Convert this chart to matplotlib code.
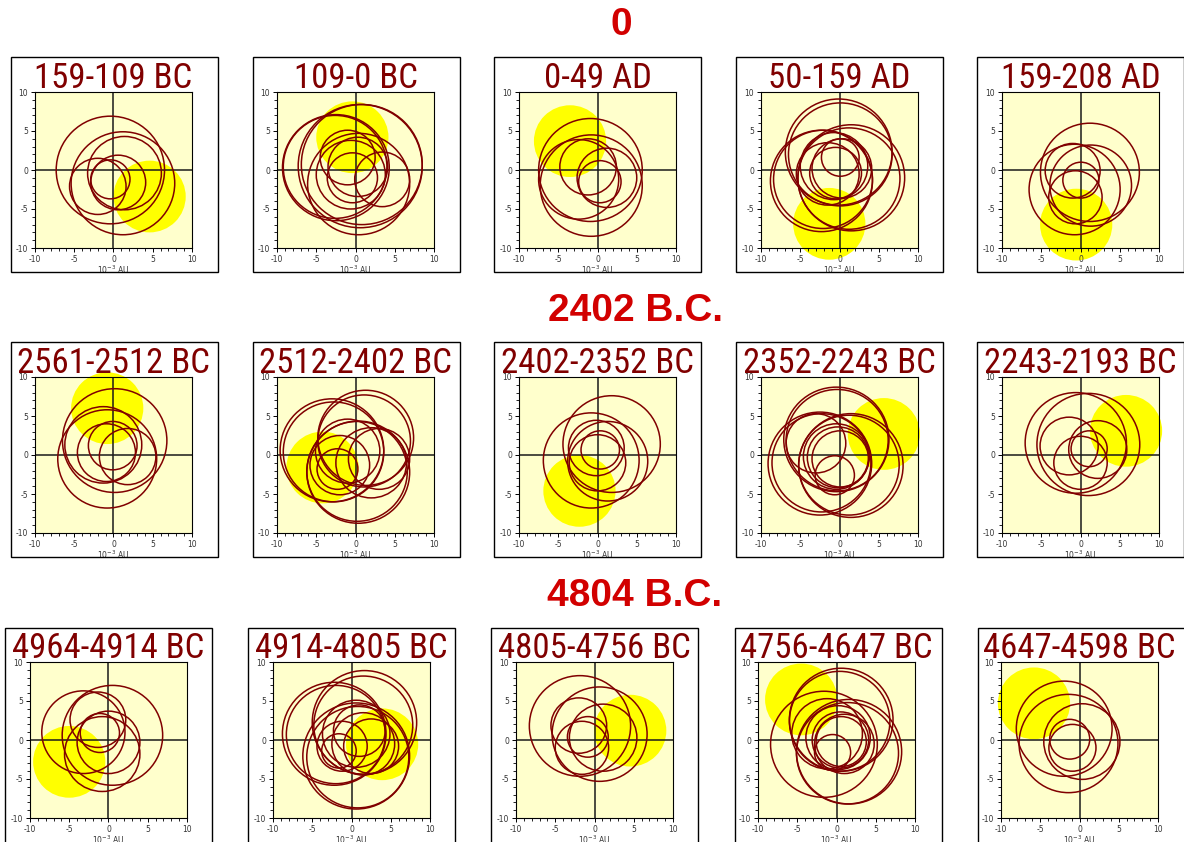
import numpy as np
import matplotlib.pyplot as plt
from matplotlib.patches import Circle, Rectangle

plt.rcParams['axes.unicode_minus'] = False

# epoch headings above each row
epochs = ['0', '2402 B.C.', '4804 B.C.']
epoch_x = [621, 635, 635]
epoch_base = [35, 321, 606]

periods = ['159-109 BC', '109-0 BC', '0-49 AD', '50-159 AD', '159-208 AD',
           '2561-2512 BC', '2512-2402 BC', '2402-2352 BC', '2352-2243 BC', '2243-2193 BC',
           '4964-4914 BC', '4914-4805 BC', '4805-4756 BC', '4756-4647 BC', '4647-4598 BC']

# sun disk centre (10^-3 AU) for each period
sun_x = [4.6, -0.4, -3.5, -1.3, -0.55, -0.8, -4.2, -2.3, 5.65, 5.8, -5.0, 3.9, 4.55, -4.5, -5.8]
sun_y = [-3.4, 4.2, 3.7, -6.9, -7.0, 6.0, -1.6, -4.6, 2.7, 3.1, -2.8, -0.55, 1.2, 5.2, 4.7]
sun_r = 4.6

# barycentre loops: (x, y, radius)
loops_159_109bc = [(-0.4, 0.0, 6.9), (1.2, -1.7, 6.6), (1.4, -0.4, 4.7), (-0.4, -1.2, 2.5),
                   (0.6, -1.6, 3.5), (-2.0, -2.1, 3.6)]
loops_109_0bc = [(0.6, 0.5, 7.9), (0.8, 0.7, 7.7), (-2.5, 0.3, 6.8), (-2.6, 0.4, 6.6),
                 (0.4, -1.8, 6.5), (0.3, 0.4, 3.8), (-1.0, 1.6, 3.5), (3.4, -1.2, 3.5),
                 (-0.4, -1.0, 3.2), (-0.6, -0.6, 4.4)]
loops_0_49ad = [(-0.9, 0.0, 6.6), (-0.8, -2.0, 6.5), (-2.4, -1.2, 5.1), (1.2, -1.0, 3.8),
                (-1.2, 0.4, 3.6), (0.3, -1.5, 2.7)]
loops_50_159ad = [(-0.1, 2.3, 6.8), (0.1, 2.0, 6.6), (-2.3, -1.4, 6.5), (-2.1, -1.2, 6.3),
                  (1.5, -1.0, 6.8), (1.2, -1.1, 6.5), (-0.7, 0.5, 4.3), (0.3, 0.2, 3.8),
                  (-1.5, -0.5, 4.0), (0.1, 1.6, 2.4), (-0.5, -0.4, 3.3)]
loops_159_208ad = [(1.2, -0.3, 6.3), (-0.75, -2.5, 5.8), (1.3, -2.0, 5.2), (0.05, -1.3, 2.3),
                   (-0.65, -3.5, 3.4), (-1.0, -0.1, 3.5)]
loops_2561_2512bc = [(0.15, 1.85, 6.65), (-0.8, -0.5, 6.3), (-1.3, 1.3, 4.9), (-0.9, 0.3, 3.7),
                     (1.8, -0.2, 3.6), (-0.1, 1.2, 3.1)]
loops_2512_2402bc = [(1.3, 2.2, 6.1), (1.1, 1.8, 5.9), (-3.0, 0.6, 6.6), (-2.8, 0.4, 6.4),
                     (0.35, -2.2, 6.55), (0.2, -2.1, 6.4), (-1.0, 0.5, 4.1), (2.0, -1.0, 4.5),
                     (-2.0, -1.3, 3.8), (-2.3, -1.8, 2.6), (3.0, -0.5, 3.9)]
loops_2402_2352bc = [(1.8, 1.4, 6.2), (-0.8, -0.7, 6.1), (1.3, -0.8, 5.1), (0.35, 0.65, 2.45),
                     (-0.15, 0.9, 3.55), (0.0, -1.0, 3.6)]
loops_2352_2243bc = [(-0.4, 2.0, 6.7), (-0.3, 1.9, 6.5), (-2.5, -1.1, 6.6), (-2.3, -1.0, 6.3),
                     (1.45, -1.35, 6.65), (1.2, -1.3, 6.4), (-0.2, -0.3, 3.9), (0.1, -0.5, 3.6),
                     (-0.4, -0.2, 4.2), (-0.6, -2.6, 2.5), (-3.0, 1.5, 3.8)]
loops_2243_2193bc = [(-0.6, 1.55, 6.45), (1.0, 1.35, 6.55), (-1.45, 1.15, 3.7), (2.2, 0.7, 3.7),
                     (1.1, 0.8, 2.3), (0.0, -1.0, 3.4)]
loops_4964_4914bc = [(0.5, 0.6, 6.4), (-3.2, 1.0, 5.3), (-0.8, -1.8, 4.8), (0.0, -0.3, 4.0),
                     (-1.1, 0.9, 2.5), (-1.35, 2.6, 3.55)]
loops_4914_4805bc = [(1.65, 2.25, 6.65), (1.5, 1.9, 6.3), (-2.2, 0.8, 6.6), (-2.0, 0.7, 6.3),
                     (0.6, -2.05, 6.8), (0.8, -2.2, 6.5), (0.6, 0.8, 4.3), (1.5, -0.5, 4.0),
                     (2.5, -0.8, 3.5), (-1.2, -0.8, 3.2), (-1.6, -1.4, 2.2), (1.0, 1.2, 3.3)]
loops_4805_4756bc = [(-1.85, 1.8, 6.45), (0.65, 0.75, 6.05), (-2.0, 1.85, 3.55), (1.1, 0.3, 4.3),
                     (-0.85, 0.4, 2.6), (-1.6, -1.0, 3.4)]
loops_4756_4647bc = [(0.6, 2.6, 6.6), (0.4, 2.4, 6.4), (-1.6, -0.55, 6.8), (1.6, -1.5, 6.7),
                     (1.4, -1.7, 6.5), (0.2, 0.3, 4.1), (0.5, 0.0, 3.6), (0.6, -0.2, 3.2),
                     (1.0, -0.5, 3.8), (-0.5, -1.6, 2.3), (-1.2, 0.8, 4.5)]
loops_4647_4598bc = [(-1.95, 1.45, 6.1), (-1.4, -0.45, 6.3), (0.3, -0.2, 4.85), (-1.25, 0.1, 2.55),
                     (-0.9, -1.0, 3.0)]

loops = [loops_159_109bc, loops_109_0bc, loops_0_49ad, loops_50_159ad, loops_159_208ad,
         loops_2561_2512bc, loops_2512_2402bc, loops_2402_2352bc, loops_2352_2243bc, loops_2243_2193bc,
         loops_4964_4914bc, loops_4914_4805bc, loops_4805_4756bc, loops_4756_4647bc, loops_4647_4598bc]

# layout in pixels (from top-left)
W, H = 1184, 842
ax_left = [[35, 277, 519, 761, 1002], [35, 277, 519, 761, 1002], [30, 273, 516, 758, 1001]]
ax_top = [92, 377, 662]
AX_W, AX_H = 157, 156
frame_left = [[11, 253, 494, 736, 977], [11, 253, 494, 736, 977], [5, 248, 491, 735, 978]]
frame_top = [57, 342, 628]
FR_W, FR_H = 207, 215

fig = plt.figure(figsize=(W / 100, H / 100), dpi=100)
fig.patch.set_facecolor('white')

for row in range(3):
    fig.text(epoch_x[row] / W, 1 - epoch_base[row] / H, epochs[row], ha='center', va='baseline',
             fontsize=28, fontweight='bold', color='#d20000', family='Liberation Sans')
    for col in range(5):
        k = row * 5 + col
        fl, ft = frame_left[row][col], frame_top[row]
        fig.add_artist(Rectangle((fl / W, 1 - (ft + FR_H) / H), FR_W / W, FR_H / H,
                                 transform=fig.transFigure, fill=False, edgecolor='black', lw=1.0))

        al = ax_left[row][col]
        ax = fig.add_axes([al / W, 1 - (ax_top[row] + AX_H) / H, AX_W / W, AX_H / H])
        ax.set_facecolor('#ffffcc')
        ax.set_xlim(-10, 10)
        ax.set_ylim(-10, 10)

        # sun disk spills past the frame, as in the original plots
        ax.add_patch(Circle((sun_x[k], sun_y[k]), sun_r, facecolor='#ffff00', edgecolor='none',
                            clip_on=False, zorder=1))
        ax.axhline(0, color='#1a1a1a', lw=1.1, zorder=2)
        ax.axvline(0, color='#1a1a1a', lw=1.1, zorder=2)
        for cx, cy, r in loops[k]:
            ax.add_patch(Circle((cx, cy), r, fill=False, edgecolor='#800000', lw=1.1, zorder=3))

        ax.set_xticks([-10, -5, 0, 5, 10])
        ax.set_yticks([-10, -5, 0, 5, 10])
        ax.set_xticks(np.arange(-10, 11, 1), minor=True)
        ax.set_yticks(np.arange(-10, 11, 1), minor=True)
        ax.tick_params(which='major', length=3, width=0.7, labelsize=5.5, labelcolor='#333333', pad=2)
        ax.tick_params(which='minor', length=2, width=0.6)
        ax.set_xlabel('10$^{-3}$ AU', fontsize=5.5, color='#333333', labelpad=0)
        for sp in ax.spines.values():
            sp.set_linewidth(0.8)

        ax.text(0.5, 1.0 + 4 / AX_H, periods[k], transform=ax.transAxes, ha='center', va='baseline',
                fontsize=25, color='#800000', family='Roboto Condensed')

fig.savefig('out.png', dpi=100)
